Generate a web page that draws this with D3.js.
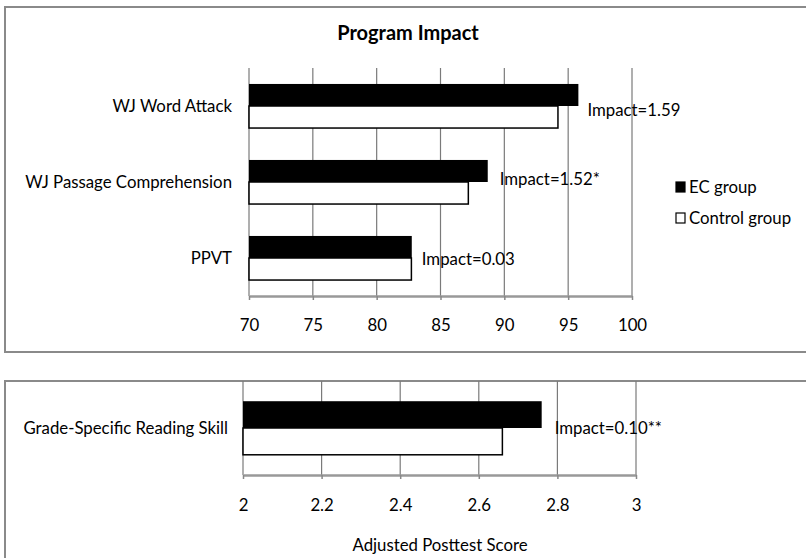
<!DOCTYPE html>
<html><head><meta charset="utf-8">
<script src="https://cdn.jsdelivr.net/npm/d3@7"></script>
<style>
html,body{margin:0;padding:0;background:#fff;}
text{font-family:Lato,"Open Sans",sans-serif;fill:#000;}
</style></head>
<body><svg id="c" width="806" height="558"></svg>
<script>
// ---- data ----
const categoriesTop = ["WJ Word Attack", "WJ Passage Comprehension", "PPVT"];
const ecTop = [95.8, 88.7, 82.75];
const controlTop = [94.2, 87.18, 82.72];
const impactTop = ["Impact=1.59", "Impact=1.52*", "Impact=0.03"];
const ticksTop = [70, 75, 80, 85, 90, 95, 100];

const categoriesBottom = ["Grade-Specific Reading Skill"];
const ecBottom = [2.76];
const controlBottom = [2.66];
const impactBottom = ["Impact=0.10**"];
const ticksBottom = [2, 2.2, 2.4, 2.6, 2.8, 3];

const seriesNames = ["EC group", "Control group"];
const titleText = "Program Impact";
const xTitle = "Adjusted Posttest Score";

const FS = "16.8px";
const svg = d3.select("#c");

// panel borders
svg.append("path").attr("d","M806,7 H5 V352 H806").attr("fill","none").attr("stroke","#8a8a8a").attr("stroke-width",2);
svg.append("path").attr("d","M806,381 H5 V558").attr("fill","none").attr("stroke","#8a8a8a").attr("stroke-width",2);

function panel(opts){
  const {cats, ec, ctl, imp, ticks, x0, x1, y0, y1, tickY, labelX, barFrac, impDx, impDy} = opts;
  const x = d3.scaleLinear().domain([ticks[0], ticks[ticks.length-1]]).range([x0, x1]);
  const y = d3.scaleBand().domain(cats).range([y0, y1]);
  const g = svg.append("g");
  // gridlines
  g.selectAll("line.grid").data(ticks).join("line")
    .attr("x1", d=>x(d)).attr("x2", d=>x(d)).attr("y1", y0).attr("y2", y1)
    .attr("stroke","#7a7a7a").attr("stroke-width",1.2);
  // axis
  const ax = g.append("g").attr("transform",`translate(0,${y1})`)
    .call(d3.axisBottom(x).tickValues(ticks).tickSize(4).tickSizeOuter(0).tickFormat(d3.format("")));
  ax.select(".domain").attr("stroke","#999").attr("stroke-width",2.5);
  ax.selectAll(".tick line").attr("stroke","#888").attr("stroke-width",1.5);
  ax.selectAll(".tick text").attr("y", tickY - y1).attr("dy","0.35em").style("font-size",FS).attr("fill","#000");
  const bw = y.bandwidth()*barFrac/2;
  // bars
  cats.forEach((c,i)=>{
    const cy = y(c) + y.bandwidth()/2;
    g.append("rect").attr("x", x(ticks[0])).attr("y", cy).attr("width", x(ctl[i]) - x(ticks[0])).attr("height", bw)
      .attr("fill","#fff").attr("stroke","#000").attr("stroke-width",1.5);
    g.append("rect").attr("x", x(ticks[0])).attr("y", cy-bw).attr("width", x(ec[i]) - x(ticks[0])).attr("height", bw)
      .attr("fill","#000");
    g.append("text").attr("x", labelX).attr("y", cy).attr("dy","0.35em").attr("text-anchor","end")
      .style("font-size",FS).text(c);
    g.append("text").attr("x", x(ec[i]) + impDx[i]).attr("y", cy + impDy[i]).attr("dy","0.35em")
      .style("font-size",FS).text(imp[i]);
  });
  return x;
}

panel({cats:categoriesTop, ec:ecTop, ctl:controlTop, imp:impactTop, ticks:ticksTop,
  x0:249, x1:632, y0:68, y1:296, tickY:325, labelX:232, barFrac:0.58,
  impDx:[9,12,10], impDy:[4,-3,1]});
panel({cats:categoriesBottom, ec:ecBottom, ctl:controlBottom, imp:impactBottom, ticks:ticksBottom,
  x0:243, x1:636, y0:381, y1:475, tickY:505, labelX:228, barFrac:0.57,
  impDx:[13], impDy:[0]});

// title
svg.append("text").attr("x",408).attr("y",33).attr("dy","0.35em").attr("text-anchor","middle")
  .style("font-size","20px").style("font-weight","bold").text(titleText);
// x title
svg.append("text").attr("x",440).attr("y",545).attr("dy","0.35em").attr("text-anchor","middle")
  .style("font-size",FS).text(xTitle);

// legend
const leg = svg.append("g");
seriesNames.forEach((s,i)=>{
  const ly = 187 + i*31;
  leg.append("rect").attr("x",676).attr("y",ly-5).attr("width",9).attr("height",10)
    .attr("fill", i===0?"#000":"#fff").attr("stroke","#000").attr("stroke-width",1.2);
  leg.append("text").attr("x",689).attr("y",ly).attr("dy","0.35em").style("font-size",FS).text(s);
});
</script></body></html>
